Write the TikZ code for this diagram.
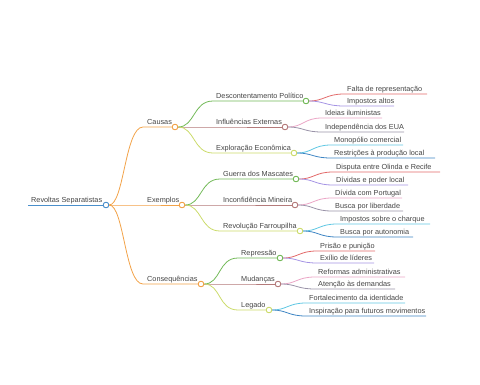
\documentclass[tikz,border=0pt]{standalone}
\usepackage{fontspec}
\setmainfont{Liberation Sans}
\usetikzlibrary{calc}
\definecolor{cblue}{HTML}{4A8FCB}
\definecolor{corange}{HTML}{F2A248}
\definecolor{cgreen}{HTML}{72B957}
\definecolor{cbrown}{HTML}{B47A7A}
\definecolor{cyellow}{HTML}{CBDB6A}
\definecolor{cred}{HTML}{E26A6A}
\definecolor{cpurple}{HTML}{A594E4}
\definecolor{cpink}{HTML}{EBA6C6}
\definecolor{cgray}{HTML}{9A93A8}
\definecolor{ccyan}{HTML}{5FC7E3}
\definecolor{cdblue}{HTML}{3F86C4}
\definecolor{ctext}{HTML}{444444}
\begin{document}
\begin{tikzpicture}[x=1pt,y=-1pt,
  lbl/.style={anchor=base west,inner sep=0pt,text=ctext,font=\fontsize{7.3}{8}\selectfont},
  dot/.style={circle,draw=#1,fill=white,line width=0.8pt,minimum size=5.5pt,inner sep=0pt},
  br/.style={line width=0.8pt,draw=#1}]
\useasboundingbox (0,0) rectangle (480,384);
% circles
\node[dot=cblue] (R) at (106,205) {};
\node[dot=corange] (C1) at (175,127) {};
\node[dot=corange] (C2) at (182,205) {};
\node[dot=corange] (C3) at (201,284) {};
\node[dot=cgreen] (D) at (306,101) {};
\node[dot=cbrown] (I) at (285,127) {};
\node[dot=cyellow] (E) at (294,153) {};
\node[dot=cgreen] (G) at (296,179) {};
\node[dot=cbrown] (M) at (295,205) {};
\node[dot=cyellow] (F) at (300,231) {};
\node[dot=cgreen] (P) at (280,258) {};
\node[dot=cbrown] (U) at (278,284) {};
\node[dot=cyellow] (L) at (269,310) {};
% start/end coordinates
\coordinate (r0) at (28,205);
\coordinate (s1) at (143,127);
\coordinate (s2) at (143,205);
\coordinate (s3) at (143,284);
\coordinate (sD) at (213,101);
\coordinate (sI) at (213,127);
\coordinate (sE) at (213,153);
\coordinate (sG) at (220,179);
\coordinate (sM) at (220,205);
\coordinate (sF) at (220,231);
\coordinate (sP) at (238,258);
\coordinate (sU) at (238,284);
\coordinate (sL) at (238,310);
% root and level 1
\draw[br=cblue] (r0) -- (R);
\node[lbl] (tR) at (31,202.2) {Revoltas Separatistas};
\draw[br=corange] (R) .. controls +(18,0) and +(-18,0) .. (s1) -- (C1);
\draw[br=corange] (R) -- (s2) -- (C2);
\draw[br=corange] (R) .. controls +(18,0) and +(-18,0) .. (s3) -- (C3);
\node[lbl] (t1) at (147,124.2) {Causas};
\node[lbl] (t2) at (147,202.2) {Exemplos};
\node[lbl] (t3) at (147,281.2) {Consequências};
% level 2
\draw[br=cgreen] (C1) .. controls +(20,0) and +(-20,0) .. (sD) -- (D);
\draw[br=cbrown] (C1) -- (sI) -- (I);
\draw[br=cyellow] (C1) .. controls +(20,0) and +(-20,0) .. (sE) -- (E);
\draw[br=cgreen] (C2) .. controls +(20,0) and +(-20,0) .. (sG) -- (G);
\draw[br=cbrown] (C2) -- (sM) -- (M);
\draw[br=cyellow] (C2) .. controls +(20,0) and +(-20,0) .. (sF) -- (F);
\draw[br=cgreen] (C3) .. controls +(20,0) and +(-20,0) .. (sP) -- (P);
\draw[br=cbrown] (C3) -- (sU) -- (U);
\draw[br=cyellow] (C3) .. controls +(20,0) and +(-20,0) .. (sL) -- (L);
\node[lbl] (tD) at (216,98.2) {Descontentamento Político};
\node[lbl] (tI) at (216,124.2) {Influências Externas};
\node[lbl] (tE) at (216,150.2) {Exploração Econômica};
\node[lbl] (tG) at (223,176.2) {Guerra dos Mascates};
\node[lbl] (tM) at (223,202.2) {Inconfidência Mineira};
\node[lbl] (tF) at (223,228.2) {Revolução Farroupilha};
\node[lbl] (tP) at (241,255.2) {Repressão};
\node[lbl] (tU) at (241,281.2) {Mudanças};
\node[lbl] (tL) at (241,307.2) {Legado};
% leaves
\foreach \pn/\sx/\ya/\ea/\ca/\ta/\yb/\eb/\cb/\tb [count=\i] in {
  D/344/94/427/cred/{Falta de representação}/106/394/cpurple/{Impostos altos},
  I/322/118/382/cpink/{Ideias iluministas}/132/404/cgray/{Independência dos EUA},
  E/331/145/403/ccyan/{Monopólio comercial}/158/435/cdblue/{Restrições à produção local},
  G/333/172/440/cred/{Disputa entre Olinda e Recife}/185/408/cpurple/{Dívidas e poder local},
  M/332/198/402/cpink/{Dívida com Portugal}/211/403/cgray/{Busca por liberdade},
  F/337/224/430/ccyan/{Impostos sobre o charque}/237/413/cdblue/{Busca por autonomia},
  P/317/251/375/cred/{Prisão e punição}/263/374/cpurple/{Exílio de líderes},
  U/315/277/405/cpink/{Reformas administrativas}/289/395/cgray/{Atenção às demandas},
  L/306/303/405/ccyan/{Fortalecimento da identidade}/316/426/cdblue/{Inspiração para futuros movimentos}}{
  \coordinate (a\i s) at (\sx,\ya);
  \coordinate (a\i e) at (\ea,\ya);
  \coordinate (b\i s) at (\sx,\yb);
  \coordinate (b\i e) at (\eb,\yb);
  \draw[br=\ca] (\pn) .. controls +(18,0) and +(-18,0) .. (a\i s) -- (a\i e);
  \draw[br=\cb] (\pn) .. controls +(18,0) and +(-18,0) .. (b\i s) -- (b\i e);
  \node[lbl] (ta\i) at ($(a\i s)+(3,-2.6)$) {\ta};
  \node[lbl] (tb\i) at ($(b\i s)+(3,-2.6)$) {\tb};
}
% redraw circles on top
\foreach \n/\c in {R/cblue,C1/corange,C2/corange,C3/corange,D/cgreen,I/cbrown,E/cyellow,G/cgreen,M/cbrown,F/cyellow,P/cgreen,U/cbrown,L/cyellow}{
  \node[dot=\c] at (\n) {};
}
\end{tikzpicture}
\end{document}
